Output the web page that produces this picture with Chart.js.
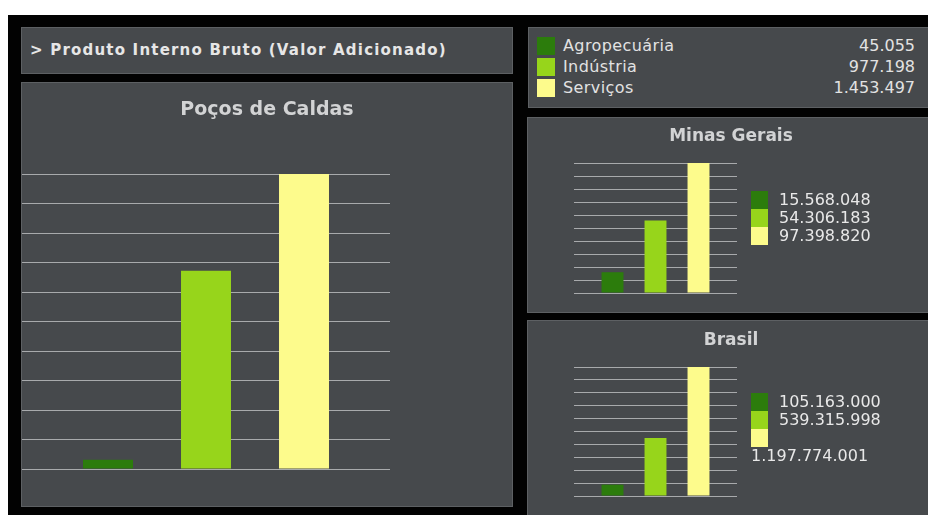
<!DOCTYPE html>
<html>
<head>
<meta charset="utf-8">
<script src="https://cdn.jsdelivr.net/npm/chart.js@4/dist/chart.umd.min.js"></script>
<style>
  html, body { margin: 0; padding: 0; background: #ffffff; width: 928px; height: 515px; overflow: hidden; font-family: "DejaVu Sans", Verdana, sans-serif; }
  #bg { position: absolute; left: 8px; top: 15px; width: 930px; height: 510px; background: #020202; }
  .panel { position: absolute; box-sizing: border-box; background: #46494c; border: 1px solid #5d6063; }
  .abs { position: absolute; }
  #header { left: 21px; top: 27px; width: 492px; height: 47px; color: #e6e6e6; font-weight: bold; font-size: 15px; letter-spacing: 1.2px; line-height: 45px; padding-left: 8px; }
  #legendPanel { left: 528px; top: 27px; width: 412px; height: 81px; }
  .lrow { position: absolute; left: 0; height: 21px; width: 100%; color: #e2e2e2; font-size: 16px; line-height: 21px; }
  .lrow .sq { position: absolute; left: 8px; top: 1px; width: 18px; height: 18px; }
  .lrow .lab { position: absolute; left: 34px; top: -1px; letter-spacing: 0.4px; }
  .lrow .val { position: absolute; right: 24px; top: -1px; }
  .mini { position: absolute; width: 138px; color: #e8e8e8; font-size: 16px; line-height: 18px; }
  .mini .sqcol { float: left; width: 17px; margin-right: 11px; }
  .mini .sqcol div { width: 17px; height: 18px; }
  .mini .txt { display: block; }
</style>
</head>
<body>
<div id="bg"></div>
<div class="panel" id="header">&gt; Produto Interno Bruto (Valor Adicionado)</div>
<div class="panel" style="left:21px;top:82px;width:492px;height:425px;"></div>
<div class="panel" id="legendPanel"></div>
<div class="panel" style="left:527px;top:117px;width:412px;height:196px;"></div>
<div class="panel" style="left:527px;top:320px;width:412px;height:205px;"></div>

<canvas id="cMain" class="abs" style="left:21px;top:82px;" width="492" height="425"></canvas>
<canvas id="cMG" class="abs" style="left:527px;top:117px;" width="408" height="196"></canvas>
<canvas id="cBR" class="abs" style="left:527px;top:320px;" width="408" height="195"></canvas>
<div id="legMG" class="mini" style="left:751px;top:191px;"></div>
<div id="legBR" class="mini" style="left:751px;top:393px;"></div>

<script>
// ---- data ----
const categories = ['Agropecuária', 'Indústria', 'Serviços'];
const colors = ['#2c7c0c', '#97d51b', '#fdfb8c'];
const pocosDeCaldas = [45055, 977198, 1453497];
const minasGerais = [15568048, 54306183, 97398820];
const brasil = [105163000, 539315998, 1197774001];
const titleMain = 'Poços de Caldas';
const titleMG = 'Minas Gerais';
const titleBR = 'Brasil';

function fmt(n) { return String(n).replace(/\B(?=(\d{3})+(?!\d))/g, '.'); }

// top legend panel
const lp = document.getElementById('legendPanel');
categories.forEach((c, i) => {
  const r = document.createElement('div');
  r.className = 'lrow';
  r.style.top = (8 + i * 21) + 'px';
  r.innerHTML = '<div class="sq" style="background:' + colors[i] + '"></div><span class="lab">' + c + '</span><span class="val">' + fmt(pocosDeCaldas[i]) + '</span>';
  lp.appendChild(r);
});

function miniLegend(id, values) {
  const el = document.getElementById(id);
  const col = document.createElement('div');
  col.className = 'sqcol';
  values.forEach((v, i) => {
    const s = document.createElement('div');
    s.style.background = colors[i];
    col.appendChild(s);
  });
  el.appendChild(col);
  values.forEach((v) => {
    const t = document.createElement('span');
    t.className = 'txt';
    t.textContent = fmt(v);
    el.appendChild(t);
  });
}
miniLegend('legMG', minasGerais);
miniLegend('legBR', brasil);

const gridColor = '#a8aaac';
const FONT = '"DejaVu Sans", Verdana, sans-serif';

function makeChart(id, title, values, cfg) {
  const maxV = Math.max(...values);
  const yAxis = (pos, onArea, width) => ({
    type: 'linear', position: pos, min: 0, max: maxV,
    ticks: { display: false, count: 11 },
    border: { display: false },
    grid: { color: gridColor, lineWidth: 1, drawTicks: true, tickLength: cfg.tick, drawOnChartArea: onArea },
    afterFit: (scale) => { scale.width = width; }
  });
  return new Chart(document.getElementById(id), {
    type: 'bar',
    data: {
      labels: categories,
      datasets: [{ data: values, backgroundColor: colors, borderWidth: 0, barPercentage: 0.51, categoryPercentage: 1 }]
    },
    options: {
      responsive: false, animation: false,
      layout: { padding: { left: 0, right: 0, top: 0, bottom: cfg.bottom } },
      plugins: {
        legend: { display: false }, tooltip: { enabled: false },
        title: { display: true, text: title, color: '#d2d3d4', font: { family: FONT, size: cfg.fs, weight: 'bold' }, padding: cfg.tp }
      },
      scales: {
        x: { display: false },
        y: yAxis('left', true, cfg.leftW),
        y2: yAxis('right', false, cfg.rightW)
      }
    }
  });
}

makeChart('cMain', titleMain, pocosDeCaldas, { tick: 37, fs: 19, leftW: 38, rightW: 160, bottom: 38, tp: { top: 17, bottom: 52.2 } });
makeChart('cMG', titleMG, minasGerais, { tick: 17, fs: 17, leftW: 64, rightW: 215, bottom: 20, tp: { top: 9.8, bottom: 15.8 } });
makeChart('cBR', titleBR, brasil, { tick: 17, fs: 17, leftW: 64, rightW: 215, bottom: 19, tp: { top: 10.8, bottom: 15.8 } });
</script>
</body>
</html>
